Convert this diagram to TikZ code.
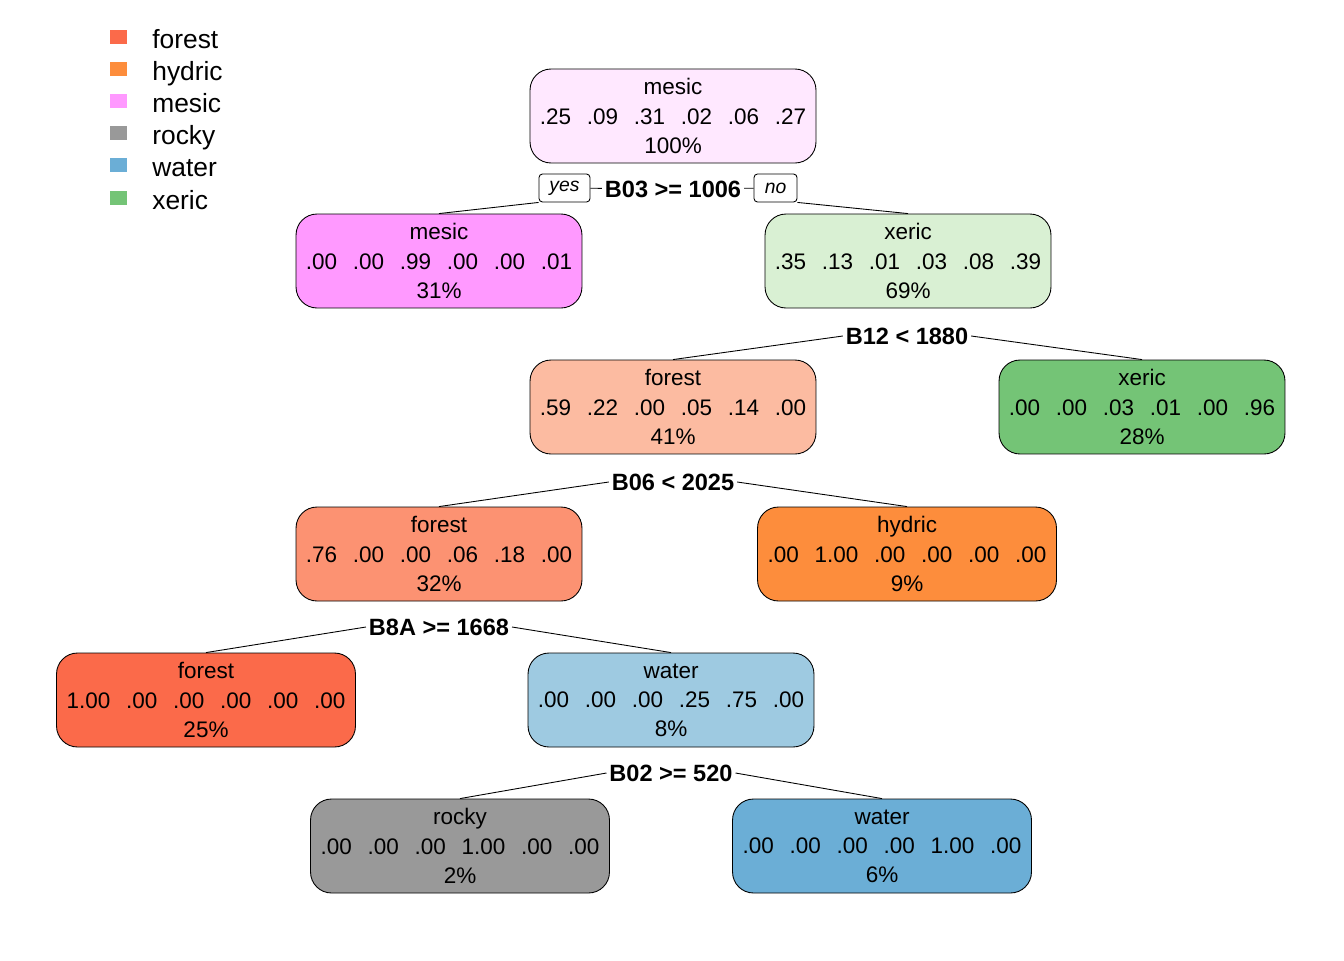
\documentclass[tikz,border=0pt]{standalone}
\usepackage{fontspec}
\setmainfont{Liberation Sans}
\definecolor{cforest}{HTML}{FB6A4A}
\definecolor{cforestm}{HTML}{FC9272}
\definecolor{cforestl}{HTML}{FCBBA1}
\definecolor{chydric}{HTML}{FD8D3C}
\definecolor{cmesic}{HTML}{FF99FF}
\definecolor{cmesicl}{HTML}{FFE8FF}
\definecolor{crocky}{HTML}{999999}
\definecolor{cwater}{HTML}{6BAED6}
\definecolor{cwaterl}{HTML}{9ECAE1}
\definecolor{cxeric}{HTML}{74C476}
\definecolor{cxericl}{HTML}{D9F0D3}
\newcommand{\numgap}{\hspace{0.7em}}

\begin{document}
\begin{tikzpicture}[x=0.02cm, y=-0.02cm,
	box/.style={draw, line width=0.5pt, rounded corners=0.42cm, minimum width=5.72cm, minimum height=1.88cm, inner sep=0pt, align=center, font=\fontsize{12.8}{16.6}\selectfont},
	wbox/.style={box, minimum width=5.98cm},
	split/.style={inner sep=1.5pt, font=\fontsize{13.4}{15}\selectfont\bfseries},
	yn/.style={draw, line width=0.5pt, rounded corners=2pt, minimum height=0.56cm, inner sep=0pt, font=\fontsize{11}{13}\selectfont\itshape},
	key/.style={inner sep=0pt, minimum width=0.34cm, minimum height=0.29cm},
	keytext/.style={anchor=base west, inner sep=0pt, font=\fontsize{15}{18}\selectfont},
	edge/.style={line width=0.5pt}]
				\useasboundingbox (0,0) rectangle (1344,960);
				\node[key, fill=cforest] (k1)at(118.5, 37) {};
				\node[key, fill=chydric] (k2)at(118.5, 69) {};
				\node[key, fill=cmesic] (k3)at(118.5, 101) {};
				\node[key, fill=crocky] (k4)at(118.5, 133) {};
				\node[key, fill=cwater] (k5)at(118.5, 165) {};
				\node[key, fill=cxeric] (k6)at(118.5, 198) {};
				\node[keytext] (t1)at(152, 48) {forest};
				\node[keytext] (t2)at(152, 80) {hydric};
				\node[keytext] (t3)at(152, 112) {mesic};
				\node[keytext] (t4)at(152, 144) {rocky};
				\node[keytext] (t5)at(152, 176) {water};
				\node[keytext] (t6)at(152, 209) {xeric};
				\node[box, fill=cmesicl] (n1)at(673, 116) {mesic\\.25\numgap.09\numgap.31\numgap.02\numgap.06\numgap.27\\100\%};
				\node[box, fill=cmesic] (n2)at(439, 261) {mesic\\.00\numgap.00\numgap.99\numgap.00\numgap.00\numgap.01\\31\%};
				\node[box, fill=cxericl] (n3)at(908, 261) {xeric\\.35\numgap.13\numgap.01\numgap.03\numgap.08\numgap.39\\69\%};
				\node[box, fill=cforestl] (n4)at(673, 407) {forest\\.59\numgap.22\numgap.00\numgap.05\numgap.14\numgap.00\\41\%};
				\node[box, fill=cxeric] (n5)at(1142, 407) {xeric\\.00\numgap.00\numgap.03\numgap.01\numgap.00\numgap.96\\28\%};
				\node[box, fill=cforestm] (n6)at(439, 554) {forest\\.76\numgap.00\numgap.00\numgap.06\numgap.18\numgap.00\\32\%};
				\node[wbox, fill=chydric] (n7)at(907, 554) {hydric\\.00\numgap1.00\numgap.00\numgap.00\numgap.00\numgap.00\\9\%};
				\node[wbox, fill=cforest] (n8)at(206, 700) {forest\\1.00\numgap.00\numgap.00\numgap.00\numgap.00\numgap.00\\25\%};
				\node[box, fill=cwaterl] (n9)at(671, 700) {water\\.00\numgap.00\numgap.00\numgap.25\numgap.75\numgap.00\\8\%};
				\node[wbox, fill=crocky] (n10)at(460, 846) {rocky\\.00\numgap.00\numgap.00\numgap1.00\numgap.00\numgap.00\\2\%};
				\node[wbox, fill=cwater] (n11)at(882, 846) {water\\.00\numgap.00\numgap.00\numgap.00\numgap1.00\numgap.00\\6\%};
				\node[split] (s1)at(673, 189) {B03 >= 1006};
				\node[yn, minimum width=1.02cm] (yes)at(564.5, 188) {yes};
				\node[yn, minimum width=0.86cm] (no)at(775.5, 188) {no};
				\node[split] (s3)at(907, 336) {B12 < 1880};
				\node[split] (s4)at(673, 482) {B06 < 2025};
				\node[split] (s6)at(439, 627) {B8A >= 1668};
				\node[split] (s9)at(671, 773) {B02 >= 520};
				\draw[edge] (yes) -- (s1);
				\draw[edge] (s1) -- (no);
				\draw[edge] (yes.south west) -- (n2.north);
				\draw[edge] (no.south east) -- (n3.north);
				\draw[edge] (s3.west) -- (n4.north);
				\draw[edge] (s3.east) -- (n5.north);
				\draw[edge] (s4.west) -- (n6.north);
				\draw[edge] (s4.east) -- (n7.north);
				\draw[edge] (s6.west) -- (n8.north);
				\draw[edge] (s6.east) -- (n9.north);
				\draw[edge] (s9.west) -- (n10.north);
				\draw[edge] (s9.east) -- (n11.north);
\end{tikzpicture}
\end{document}
